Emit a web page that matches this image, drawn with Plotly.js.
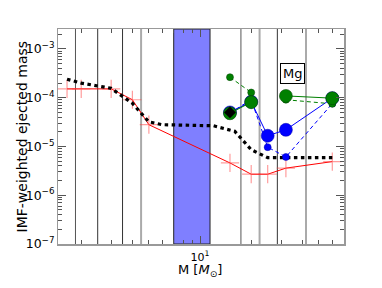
<!DOCTYPE html>
<html>
<head>
<meta charset="utf-8">
<script src="https://cdn.plot.ly/plotly-3.0.1.min.js"></script>
<style>html,body{margin:0;padding:0;background:#fff;}#chart{width:382px;height:288px;}</style>
</head>
<body>
<div id="chart"></div>
<script>
// ---- data ----
const redMass = [1.65, 2, 3, 4, 5, 15, 20, 25, 32, 60];
const redYield = [1.52e-4, 1.52e-4, 1.52e-4, 9.1e-5, 2.8e-5, 4.6e-6, 2.7e-6, 2.7e-6, 3.6e-6, 4.9e-6];

const blackMass = [1.65, 2, 3, 4, 5, 6, 12, 16, 20, 22.5, 25, 32, 60];
const blackYield = [2.4e-4, 2.0e-4, 1.56e-4, 7.7e-5, 3.2e-5, 2.8e-5, 2.66e-5, 2.05e-5, 8.6e-6, 6.9e-6, 5.9e-6, 5.9e-6, 5.9e-6];

const modelMass = [15, 20, 25, 32, 60];
const greenBig = [4.8e-5, 8.1e-5, null, 1.09e-4, 9.8e-5];
const greenSmall = [2.64e-4, 1.28e-4, null, 9.1e-5, 7.5e-5];
const blueBig = [5.0e-5, 8.3e-5, 1.66e-5, 2.2e-5, 9.8e-5];
const blueSmall = [4.9e-5, 9.1e-5, 9.7e-6, 6.1e-6, 7.6e-5];

const diamondMass = [15];
const diamondYield = [5.0e-5];

const darkLines = [2.5, 3.5, 28.5];
const midLines = [1.85, 17.4];
const lightLines = [4.5, 22.4, 42];
const band = [7.0, 11.45];

const xTickVals = [10];
const xTickText = ['10<sup>1</sup>'];
const labelText = 'Mg';
const yTitle = 'IMF-weighted ejected mass';
const xTitle = 'M [<i>M</i><sub>⊙</sub>]';

// ---- traces ----
const traces = [
  {x: redMass, y: redYield, mode: 'lines', line: {color: '#ff0000', width: 1}},
  {x: redMass, y: redYield, mode: 'markers',
   marker: {symbol: 'cross-thin', size: 13, line: {color: 'rgba(255,60,60,0.5)', width: 1.2}}},
  {x: blackMass, y: blackYield, mode: 'lines', line: {color: '#000', width: 3.2, dash: '3.5px,3.5px'}},
  {x: modelMass, y: blueSmall, mode: 'lines+markers', line: {color: '#0000ff', width: 1, dash: '4px,3px'},
   marker: {color: '#0000ff', size: 7, line: {color: '#0000aa', width: 0.5}}},
  {x: modelMass, y: blueBig, mode: 'lines+markers', line: {color: '#0000ff', width: 1},
   marker: {color: '#0000ff', size: 13, line: {color: '#0000aa', width: 0.5}}},
  {x: modelMass, y: greenSmall, mode: 'lines+markers', connectgaps: false, line: {color: '#008000', width: 1, dash: '4px,3px'},
   marker: {color: '#008000', size: 7, line: {color: '#004000', width: 0.5}}},
  {x: modelMass, y: greenBig, mode: 'lines+markers', connectgaps: false, line: {color: '#008000', width: 1},
   marker: {color: '#008000', size: 13, line: {color: '#004000', width: 0.5}}},
  {x: diamondMass, y: diamondYield, mode: 'markers',
   marker: {symbol: 'diamond', color: '#000', size: 9}}
];

// ---- shapes (data coordinates on log axis) ----
const shapes = [];
const vline = (m, color, w) => ({type: 'line', xref: 'x', yref: 'paper', x0: m, x1: m, y0: 0, y1: 1,
  line: {color: color, width: w}, layer: 'below'});
darkLines.forEach(m => shapes.push(vline(m, '#333', 1)));
midLines.forEach(m => shapes.push(vline(m, '#555', 1)));
lightLines.forEach(m => shapes.push(vline(m, '#aaa', 2)));
shapes.push({type: 'rect', xref: 'x', yref: 'paper', x0: band[0], x1: band[1], y0: 0, y1: 1,
  fillcolor: 'rgba(0,0,255,0.5)', line: {color: '#222', width: 1}, layer: 'below'});

const axisCommon = {
  showline: true, linecolor: '#999', linewidth: 1.5, mirror: 'allticks',
  ticks: 'inside', ticklen: 8, tickwidth: 1, tickcolor: '#555',
  showgrid: false, zeroline: false,
  tickfont: {family: 'DejaVu Sans', size: 11, color: '#000'}
};

const layout = {
  width: 382, height: 288,
  margin: {l: 58, r: 38, t: 29, b: 44},
  paper_bgcolor: '#fff', plot_bgcolor: '#fff',
  showlegend: false,
  font: {family: 'DejaVu Sans', color: '#000'},
  xaxis: Object.assign({}, axisCommon, {
    type: 'log', range: [Math.log10(1.46), Math.log10(70.3)],
    tickmode: 'array', tickvals: xTickVals, ticktext: xTickText,
    ticklabelstandoff: 2,
    minor: {ticks: 'inside', ticklen: 4, tickcolor: '#555', dtick: 'D1', showgrid: false}
  }),
  yaxis: Object.assign({}, axisCommon, {
    type: 'log', range: [-7, -2.59], dtick: 1, exponentformat: 'power',
    tickfont: {family: 'DejaVu Sans', size: 10, color: '#000'},
    minor: {ticks: 'inside', ticklen: 4, tickcolor: '#555', dtick: 'D1', showgrid: false}
  }),
  shapes: shapes,
  annotations: [
    {xref: 'paper', yref: 'paper', x: 0.8206, y: 0.791, xanchor: 'center', yanchor: 'middle',
     text: labelText, showarrow: false,
     font: {family: 'DejaVu Sans', size: 13, color: '#000'},
     bgcolor: '#fff', bordercolor: '#000', borderwidth: 1, borderpad: 2},
    {xref: 'paper', yref: 'paper', x: -0.126, y: 0.5, xanchor: 'center', yanchor: 'middle',
     text: yTitle, textangle: -90, showarrow: false,
     font: {family: 'DejaVu Sans', size: 14, color: '#000'}},
    {xref: 'paper', yref: 'paper', x: 0.497, y: -0.125, xanchor: 'center', yanchor: 'middle',
     text: xTitle, showarrow: false,
     font: {family: 'DejaVu Sans', size: 13, color: '#000'}}
  ]
};

Plotly.newPlot('chart', traces, layout, {staticPlot: true, displayModeBar: false});
</script>
</body>
</html>
